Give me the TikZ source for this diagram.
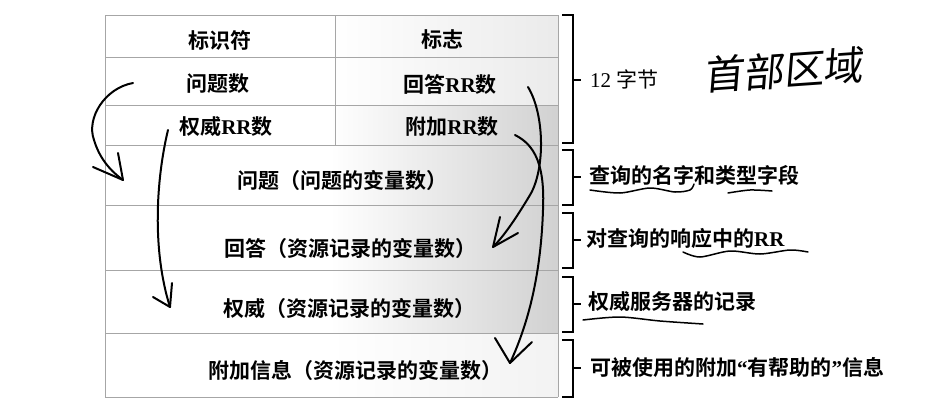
\documentclass[tikz,border=0pt]{standalone}
\usepackage{fontspec}
\setmainfont{Liberation Serif}
\newfontfamily\cjk{Noto Sans CJK SC}[BoldFont={Noto Sans CJK SC Bold}]
\newfontfamily\hand{Noto Sans CJK SC}[FakeSlant=0.15]
\tikzset{
  cell/.style={font=\bfseries\fontsize{21}{21}\selectfont, inner sep=0pt},
  note/.style={font=\bfseries\fontsize{21}{21}\selectfont, anchor=west, inner sep=0pt},
  grid/.style={draw=black!35, line width=0.6pt},
  brace/.style={draw=black, line width=1.5pt},
  ink/.style={draw=black, line width=2pt, line cap=round, line join=round},
  thinink/.style={draw=black, line width=1.5pt, line cap=round, line join=round},
}
\begin{document}
\begin{tikzpicture}[x=1pt,y=-1pt]
\useasboundingbox (0,0) rectangle (948,407);
\fill[white] (0,0) rectangle (948,407);
% shading of the table
\shade[left color=white, right color=black!8] (330,15) rectangle (558,105);
\shade[left color=white, right color=black!18] (330,105) rectangle (558,333);
\shade[left color=white, right color=black!5] (330,333) rectangle (558,397);
% grid
\foreach \y in {15,57,105,145,205,270,333,397} \draw[grid] (105,\y) -- (558,\y);
\draw[grid] (105,15) -- (105,397);
\draw[grid] (558,15) -- (558,397);
\draw[grid] (335,15) -- (335,145);
% cell texts
\node[cell] (id)   at (220,40)  {\cjk 标识符};
\node[cell] (flag) at (442,40)  {\cjk 标志};
\node[cell] (nq)   at (218,84)  {\cjk 问题数};
\node[cell] (nan)  at (450,84)  {{\cjk 回答}RR{\cjk 数}};
\node[cell] (nau)  at (226,127) {{\cjk 权威}RR{\cjk 数}};
\node[cell] (nad)  at (452,127) {{\cjk 附加}RR{\cjk 数}};
\node[cell] (q)    at (342,181) {\cjk 问题（问题的变量数）};
\node[cell] (an)   at (350,249) {\cjk 回答（资源记录的变量数）};
\node[cell] (au)   at (349,309) {\cjk 权威（资源记录的变量数）};
\node[cell] (ad)   at (355,371) {\cjk 附加信息（资源记录的变量数）};
% brackets
\draw[brace] (562,15) -- (573,15) -- (573,143) -- (562,143);
\draw[brace] (562,150) -- (573,150) -- (573,205) -- (562,205);
\draw[brace] (562,213) -- (573,213) -- (573,268) -- (562,268);
\draw[brace] (562,277) -- (573,277) -- (573,332) -- (562,332);
\draw[brace] (562,340) -- (573,340) -- (573,397) -- (562,397);
\coordinate (t1) at (581,80);
\coordinate (t2) at (581,177);
\coordinate (t3) at (581,240);
\coordinate (t4) at (581,304);
\coordinate (t5) at (581,368);
\draw[brace] (573,80) -- (t1);
\draw[brace] (573,177) -- (t2);
\draw[brace] (573,240) -- (t3);
\draw[brace] (573,304) -- (t4);
\draw[brace] (573,368) -- (t5);
% notes
\node[note, font=\fontsize{21}{21}\selectfont] (n1) at (590,79)  {12 {\cjk 字节}};
\node[note] (n2) at (589,175) {\cjk 查询的名字和类型字段};
\node[note] (n3) at (586,238) {{\cjk 对查询的响应中的}RR};
\node[note] (n4) at (588,302) {\cjk 权威服务器的记录};
\node[note] (n5) at (590,367) {{\cjk 可被使用的附加}“{\cjk 有帮助的}”{\cjk 信息}};
% handwriting
\node[font=\hand\fontsize{40}{40}\selectfont, inner sep=0pt, rotate=4] (hw) at (783,70) {首部区域};
% handwritten arrows
\draw[ink] (133,83) .. controls (105,88) and (86,118) .. (94,140) .. controls (100,160) and (112,172) .. (123,180);
\draw[ink] (93,167) -- (123,180) -- (118,153);
\draw[ink] (168,130) .. controls (156,180) and (152,250) .. (170,307);
\draw[ink] (153,297) -- (170,307) -- (172,283);
\draw[ink] (528,87) .. controls (545,115) and (545,170) .. (530,195) .. controls (518,215) and (505,235) .. (493,247);
\draw[ink] (500,217) -- (493,247) -- (518,233);
\draw[ink] (515,135) .. controls (535,145) and (545,165) .. (543,210) .. controls (541,270) and (530,320) .. (510,363);
\draw[ink] (495,338) -- (510,363) -- (532,342);
% underlines
\draw[thinink] plot[smooth] coordinates {(590,190) (620,193) (650,188) (675,192) (690,190) (694,184)};
\draw[thinink] plot[smooth] coordinates {(728,193) (750,190) (772,191)};
\draw[thinink] plot[smooth] coordinates {(683,252) (700,257) (730,251) (760,254) (790,250) (808,252)};
\draw[thinink] plot[smooth] coordinates {(583,320) (620,317) (660,321) (703,324)};
\end{tikzpicture}
\end{document}
